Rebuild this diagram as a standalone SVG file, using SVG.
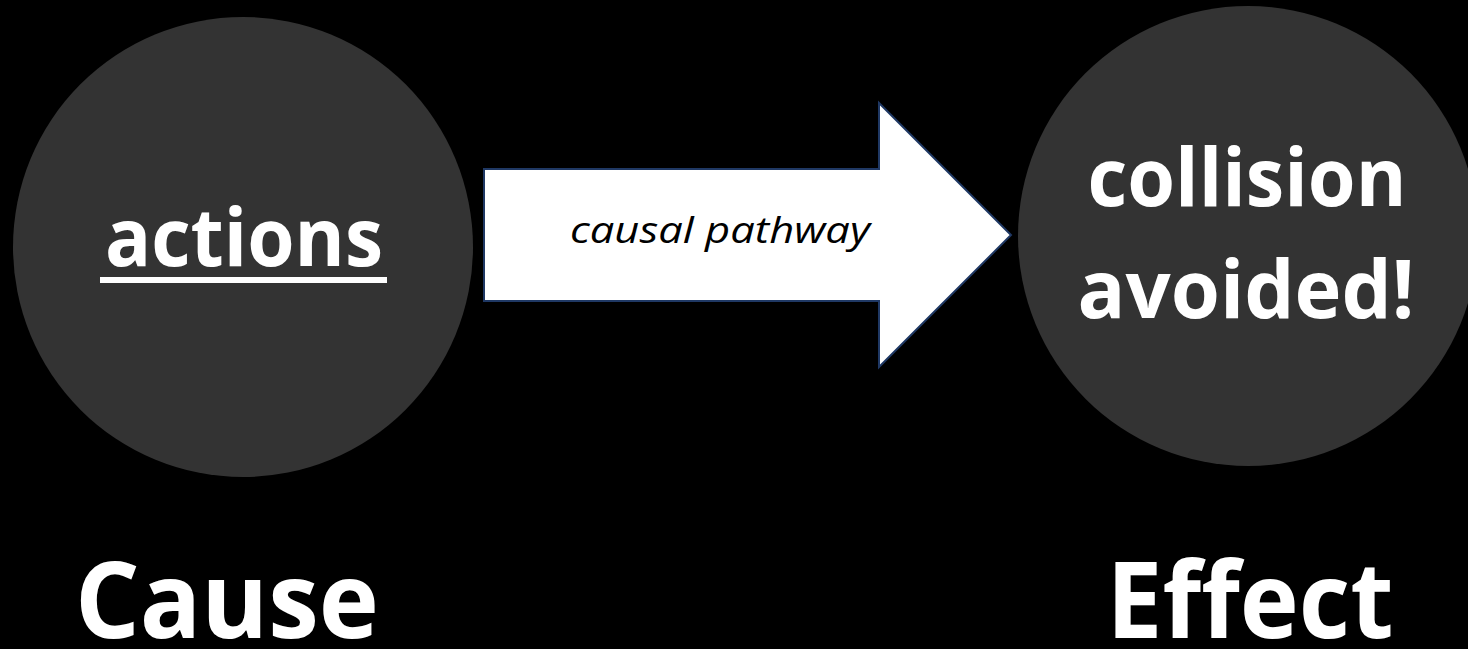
<svg xmlns="http://www.w3.org/2000/svg" width="1468" height="649" viewBox="0 0 1468 649">
<style>
.circ{fill:#333333}
.big{font-family:"Open Sans","Liberation Sans",sans-serif;font-weight:bold;fill:#ffffff;text-anchor:middle}
.lbl{font-family:"Open Sans","Liberation Sans",sans-serif;font-style:italic;fill:#000000;text-anchor:middle}
</style>
<rect width="1468" height="649" fill="#000000"/>
<g id="cause">
<circle class="circ" cx="243" cy="247" r="230"/>
<text class="big" x="244" y="266" font-size="80" textLength="278" lengthAdjust="spacingAndGlyphs">actions</text>
<rect x="100" y="277" width="287" height="6" fill="#ffffff"/>
</g>
<g id="effect">
<circle class="circ" cx="1248" cy="236" r="230"/>
<text class="big" x="1247" y="206" font-size="80" textLength="319" lengthAdjust="spacingAndGlyphs">collision</text>
<text class="big" x="1246" y="318" font-size="80" textLength="337" lengthAdjust="spacingAndGlyphs">avoided!</text>
</g>
<g id="connectors">
<path d="M484,169 L879,169 L879,103 L1011,235 L879,367 L879,301 L484,301 Z" fill="#ffffff" stroke="#1f3864" stroke-width="2"/>
<text class="lbl" x="720" y="243" font-size="36" textLength="300" lengthAdjust="spacingAndGlyphs">causal pathway</text>
</g>
<g id="labels">
<text class="big" x="227" y="638" font-size="106" textLength="304" lengthAdjust="spacingAndGlyphs">Cause</text>
<text class="big" x="1250" y="638" font-size="106" textLength="287" lengthAdjust="spacingAndGlyphs">Effect</text>
</g>
</svg>
